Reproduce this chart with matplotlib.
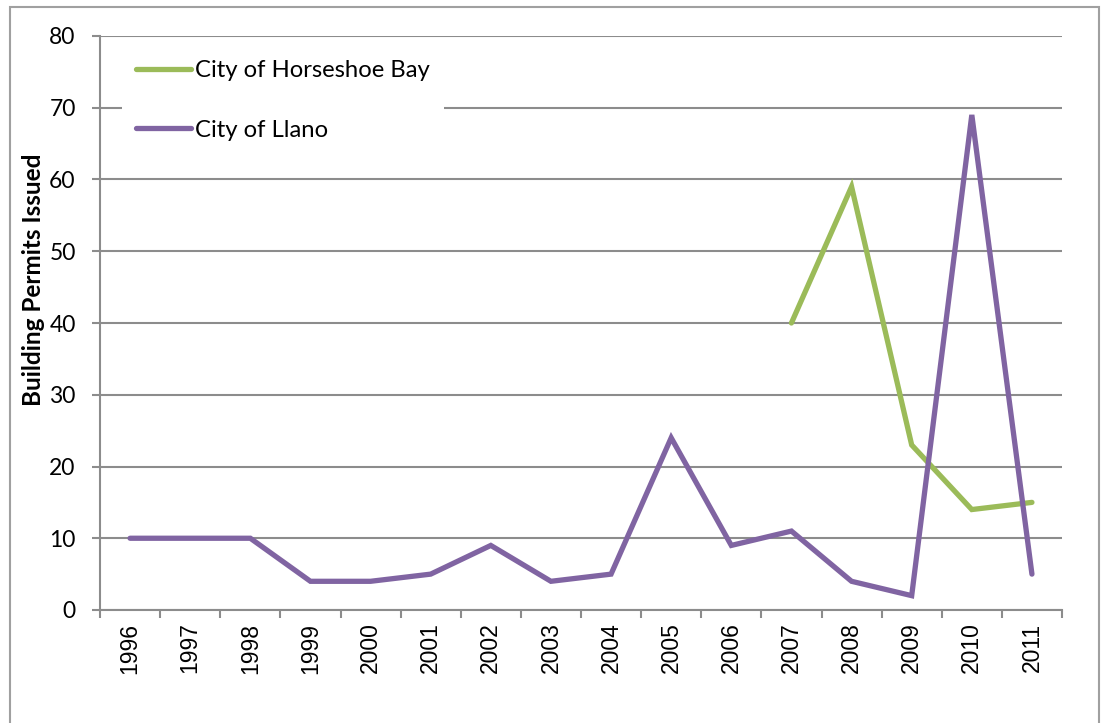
import numpy as np
import matplotlib.pyplot as plt
from matplotlib.patches import Rectangle

years = ["1996", "1997", "1998", "1999", "2000", "2001", "2002", "2003",
         "2004", "2005", "2006", "2007", "2008", "2009", "2010", "2011"]
llano = [10, 10, 10, 4, 4, 5, 9, 4, 5, 24, 9, 11, 4, 2, 69, 5]
horseshoe_years = ["2007", "2008", "2009", "2010", "2011"]
horseshoe = [40, 59, 23, 14, 15]

green = "#9BBB59"
purple = "#8064A2"
grid_gray = "#8C8C8C"

W, H = 1101, 723
fig = plt.figure(figsize=(W / 100, H / 100), dpi=100)
ax = fig.add_axes([100 / W, 1 - 610 / H, 962 / W, 574 / H])

# chart area border
fig.patches.append(Rectangle((10 / W, -0.1), 1089 / W, 1 - 7 / H + 0.1,
                             transform=fig.transFigure, fill=False,
                             edgecolor="#A0A0A0", linewidth=1.5))

x = np.arange(len(years))
hx = [years.index(y) for y in horseshoe_years]

ax.plot(hx, horseshoe, color=green, linewidth=3.8, solid_capstyle="round",
        solid_joinstyle="miter", label="City of Horseshoe Bay", zorder=3)
ax.plot(x, llano, color=purple, linewidth=3.8, solid_capstyle="round",
        solid_joinstyle="miter", label="City of Llano", zorder=3)

ax.set_xlim(-0.5, len(years) - 0.5)
ax.set_ylim(0, 80)
ax.set_yticks(range(0, 81, 10))
ax.set_xticks(x)
ax.set_xticklabels(years, rotation=90, family="Liberation Sans", fontsize=16.5)
ax.set_xticks(np.arange(-0.5, len(years), 1), minor=True)

for lbl in ax.get_yticklabels():
    lbl.set_family("Lato")
    lbl.set_fontsize(16.5)

ax.tick_params(axis="x", which="major", length=0, pad=9)
ax.tick_params(axis="x", which="minor", length=6, width=1.5, color=grid_gray)
ax.tick_params(axis="y", length=5.5, width=1.5, color=grid_gray, pad=12)

ax.yaxis.grid(True, color=grid_gray, linewidth=1.5)
ax.set_axisbelow(True)
for side in ("top", "right"):
    ax.spines[side].set_visible(False)
for side in ("left", "bottom"):
    ax.spines[side].set_color(grid_gray)
    ax.spines[side].set_linewidth(1.5)
ax.spines["bottom"].set_zorder(4)

fig.text(34 / W, 1 - 280 / H, "Building Permits Issued", rotation=90,
         ha="center", va="center", family="Lato", fontweight="bold",
         fontsize=17.5)

leg = ax.legend(loc="upper left", bbox_to_anchor=(122 / W, 1 - 46 / H),
                bbox_transform=fig.transFigure, borderaxespad=0,
                frameon=True, fancybox=False, framealpha=1,
                facecolor="white", edgecolor="none",
                prop={"family": "Lato", "size": 17.2},
                handlelength=2.3, handletextpad=0.17, labelspacing=1.6,
                borderpad=0.6)
leg.set_zorder(5)

fig.savefig("out.png", dpi=100)
